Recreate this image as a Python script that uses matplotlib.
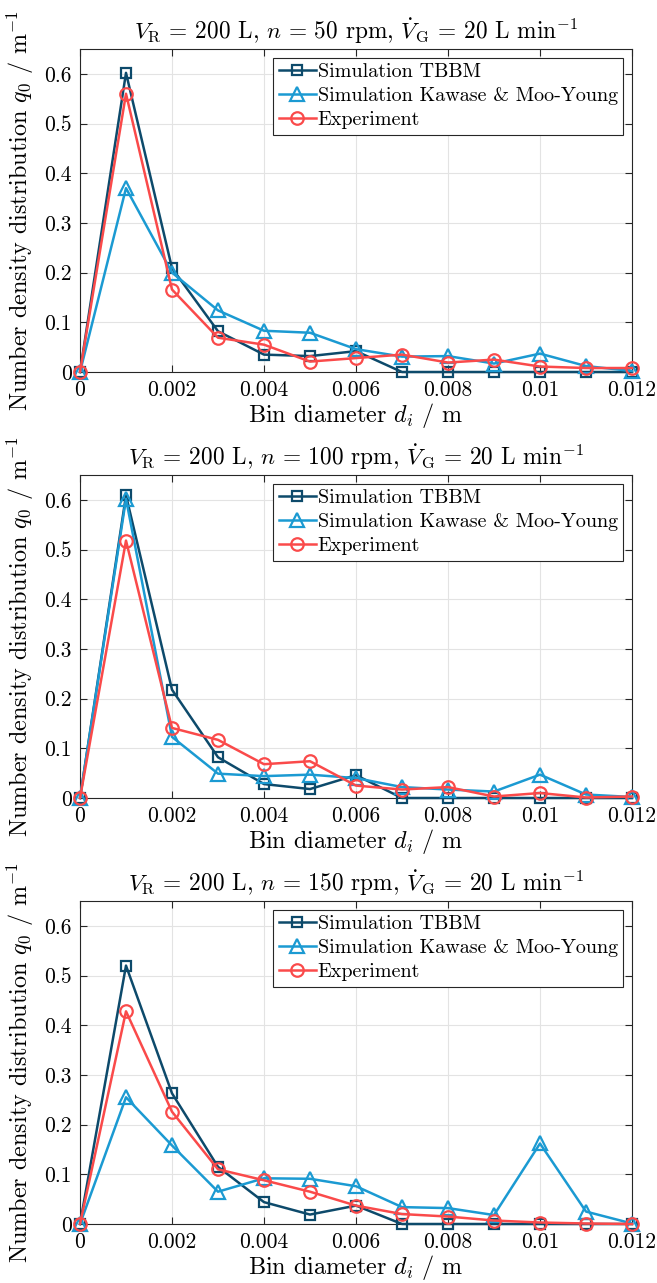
import matplotlib
matplotlib.use('Agg')
import matplotlib.pyplot as plt

# bin diameters in m
d_bins = [0, 0.001, 0.002, 0.003, 0.004, 0.005, 0.006, 0.007, 0.008, 0.009, 0.010, 0.011, 0.012]

# number density distributions q0, one list per stirrer speed
tbbm_50 = [0, 0.602, 0.209, 0.082, 0.035, 0.032, 0.042, 0, 0, 0, 0, 0, 0]
kawase_50 = [0, 0.370, 0.200, 0.124, 0.083, 0.079, 0.046, 0.031, 0.032, 0.017, 0.037, 0.012, 0.002]
exp_50 = [0, 0.560, 0.166, 0.069, 0.055, 0.021, 0.028, 0.035, 0.019, 0.025, 0.011, 0.008, 0.008]

tbbm_100 = [0, 0.609, 0.218, 0.082, 0.028, 0.018, 0.046, 0, 0, 0, 0, 0, 0]
kawase_100 = [0, 0.602, 0.123, 0.049, 0.044, 0.047, 0.040, 0.022, 0.017, 0.013, 0.047, 0.007, 0.002]
exp_100 = [0, 0.518, 0.141, 0.117, 0.068, 0.074, 0.025, 0.017, 0.022, 0.003, 0.010, 0.001, 0.003]

tbbm_150 = [0, 0.520, 0.263, 0.115, 0.044, 0.019, 0.037, 0, 0, 0, 0, 0, 0]
kawase_150 = [0, 0.255, 0.158, 0.065, 0.092, 0.091, 0.076, 0.034, 0.032, 0.018, 0.162, 0.025, 0.001]
exp_150 = [0, 0.428, 0.226, 0.110, 0.088, 0.065, 0.037, 0.020, 0.015, 0.007, 0.003, 0.001, 0.0]

speeds = [50, 100, 150]
series = [
    (tbbm_50, kawase_50, exp_50),
    (tbbm_100, kawase_100, exp_100),
    (tbbm_150, kawase_150, exp_150),
]

x_ticks = [0, 0.002, 0.004, 0.006, 0.008, 0.010, 0.012]
x_tick_labels = ['0', '0.002', '0.004', '0.006', '0.008', '0.01', '0.012']
y_ticks = [0, 0.1, 0.2, 0.3, 0.4, 0.5, 0.6]
y_tick_labels = ['0', '0.1', '0.2', '0.3', '0.4', '0.5', '0.6']

c_tbbm = '#0d4a6b'
c_kawase = '#1b9ad2'
c_exp = '#fa4a4a'

plt.rcParams['font.family'] = 'serif'
plt.rcParams['font.serif'] = ['cmr10']
plt.rcParams['mathtext.fontset'] = 'cm'
plt.rcParams['axes.unicode_minus'] = False
plt.rcParams['axes.formatter.use_mathtext'] = True

fig = plt.figure(figsize=(6.57, 12.83), dpi=100)

W, H = 657.0, 1283.0
left, right = 80, 632
# pixel rows of the top and bottom edge of each panel
panel_rows = [(49, 372), (475, 798), (901, 1224)]

for (top, bottom), n, (tbbm, kawase, exp) in zip(panel_rows, speeds, series):
    ax = fig.add_axes([left / W, 1 - bottom / H, (right - left) / W, (bottom - top) / H])

    ax.plot(d_bins, tbbm, '-s', color=c_tbbm, lw=1.8, ms=7, mew=1.6,
            mfc='none', label='Simulation TBBM', clip_on=False, zorder=3)
    ax.plot(d_bins, kawase, '-^', color=c_kawase, lw=1.8, ms=10, mew=1.6,
            mfc='none', label='Simulation Kawase & Moo-Young', clip_on=False, zorder=3)
    ax.plot(d_bins, exp, '-o', color=c_exp, lw=1.8, ms=9, mew=1.6,
            mfc='none', label='Experiment', clip_on=False, zorder=3)

    ax.set_xlim(0, 0.012)
    ax.set_ylim(0, 0.65)
    ax.set_xticks(x_ticks)
    ax.set_xticklabels(x_tick_labels)
    ax.set_yticks(y_ticks)
    ax.set_yticklabels(y_tick_labels)
    ax.tick_params(direction='in', top=True, right=True, length=5, width=0.8,
                   labelsize=15.5, colors='#262626', labelcolor='black', pad=6)
    ax.grid(True, color='#e3e3e3', lw=0.8)
    ax.set_axisbelow(True)
    for sp in ax.spines.values():
        sp.set_color('#262626')
        sp.set_linewidth(0.8)

    ax.set_title(r'$V_\mathrm{R}$ = 200 L, $n$ = %d rpm, $\dot{V}_\mathrm{G}$ = 20 L min$^{-1}$' % n,
                 fontsize=16.8, pad=7)
    ax.set_xlabel(r'Bin diameter $d_i$ / m', fontsize=17.4, labelpad=1)
    ax.set_ylabel(r'Number density distribution $q_0$ / m$^{-1}$', fontsize=17.4, labelpad=6)

    leg = ax.legend(loc='upper right', fontsize=14.5, handlelength=1.85, handletextpad=0.1,
                    borderpad=0.25, labelspacing=0.3, borderaxespad=0.45, fancybox=False,
                    framealpha=1)
    leg.get_frame().set_edgecolor('#262626')
    leg.get_frame().set_linewidth(0.8)

fig.savefig('out.png', dpi=100)
